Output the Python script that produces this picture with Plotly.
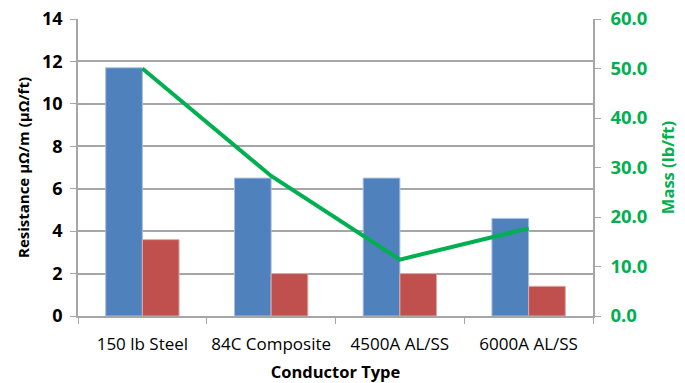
import plotly.graph_objects as go

# Conductor data
conductors = ["150 lb Steel", "84C Composite", "4500A AL/SS", "6000A AL/SS"]
resistance_per_m = [11.7, 6.5, 6.5, 4.6]    # μΩ/m
resistance_per_ft = [3.6, 2.0, 2.0, 1.4]    # μΩ/ft
mass_lb_ft = [50.0, 28.3, 11.4, 17.7]       # lb/ft

left_ticks = [0, 2, 4, 6, 8, 10, 12, 14]
right_ticks = [0, 10, 20, 30, 40, 50, 60]

BLUE = "#4F81BD"
RED = "#C0504D"
GREEN = "#00B050"
GRID = "#A6A6A6"
FONT = "'Open Sans', sans-serif"

fig = go.Figure()
fig.add_trace(go.Bar(
    x=conductors, y=resistance_per_m, name="μΩ/m",
    marker=dict(color=BLUE, line=dict(color="#A7C0DE", width=1)),
))
fig.add_trace(go.Bar(
    x=conductors, y=resistance_per_ft, name="μΩ/ft",
    marker=dict(color=RED, line=dict(color="#DFA8A6", width=1)),
))
fig.add_trace(go.Scatter(
    x=conductors, y=mass_lb_ft, name="Mass", yaxis="y2",
    mode="lines", line=dict(color=GREEN, width=4),
))

fig.update_layout(
    width=685, height=383,
    margin=dict(l=78, r=92, t=19, b=67),
    paper_bgcolor="white", plot_bgcolor="white",
    barmode="group", bargap=0.43, bargroupgap=0,
    showlegend=False,
    font=dict(family=FONT, color="black"),
    xaxis=dict(
        automargin=False,
        showline=True, linecolor=GRID, linewidth=1.5,
        ticks="outside", tickson="boundaries", ticklen=6, tickcolor=GRID,
        tickangle=0,
        tickfont=dict(size=17, family=FONT), ticklabelstandoff=12,
        title=dict(text="<b>Conductor Type</b>", font=dict(size=16.5, family=FONT), standoff=12),
    ),
    yaxis=dict(
        automargin=False,
        range=[0, 14], tickvals=left_ticks,
        showgrid=True, gridcolor=GRID, gridwidth=1.5,
        showline=True, linecolor=GRID, linewidth=1.5,
        ticks="outside", ticklen=6, tickcolor=GRID,
        tickfont=dict(size=18, family=FONT, weight="bold"), ticklabelstandoff=4,
        zeroline=False,
        title=dict(text="<b>Resistance μΩ/m (μΩ/ft)</b>", font=dict(size=15, family=FONT), standoff=9),
    ),
    yaxis2=dict(
        automargin=False,
        overlaying="y", side="right",
        range=[0, 60], tickvals=right_ticks, tickformat=".1f",
        showgrid=False, zeroline=False,
        showline=True, linecolor=GRID, linewidth=1.5,
        ticks="outside", ticklen=6, tickcolor=GRID,
        tickfont=dict(size=18.5, family=FONT, color=GREEN, weight="bold"), ticklabelstandoff=6,
        title=dict(text="<b>Mass (lb/ft)</b>", font=dict(size=16.5, family=FONT, color=GREEN), standoff=16),
    ),
)

fig.write_html("out.html")
